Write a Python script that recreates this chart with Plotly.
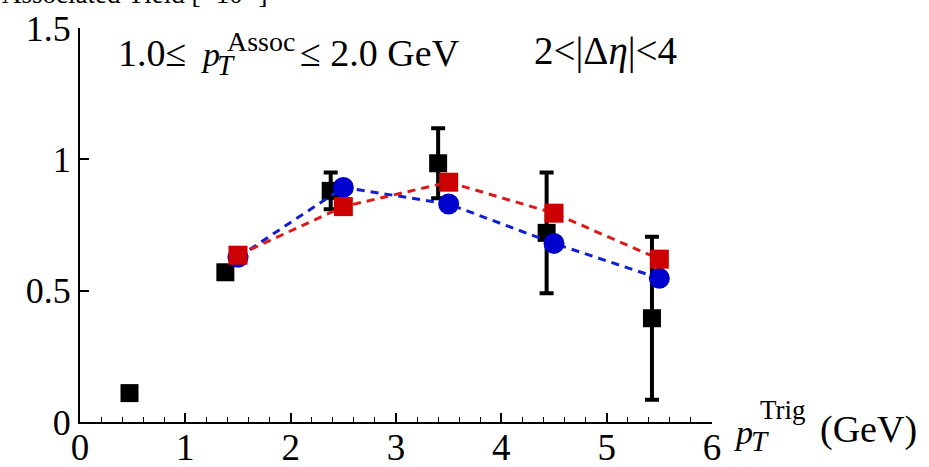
import plotly.graph_objects as go

# Data
data_x = [0.47, 1.38, 2.38, 3.40, 4.43, 5.43]
data_y = [0.11, 0.57, 0.88, 0.985, 0.72, 0.395]
data_err = [0.0, 0.02, 0.07, 0.133, 0.23, 0.31]

blue_x = [1.5, 2.5, 3.5, 4.5, 5.5]
blue_y = [0.627, 0.893, 0.83, 0.68, 0.547]

red_x = [1.5, 2.5, 3.5, 4.5, 5.5]
red_y = [0.635, 0.82, 0.913, 0.795, 0.62]

x_ticks = [0, 1, 2, 3, 4, 5, 6]
y_ticks = [0, 0.5, 1, 1.5]
y_tick_text = ["0", "0.5", "1", "1.5"]

W, H = 929, 467
L, R, T, B = 80, 217, 27.5, 45
PW, PH = W - L - R, H - T - B

def px(x):
    return (x - L) / PW

def py(y):
    return (H - B - y) / PH

FONT = "Liberation Serif"

fig = go.Figure()

fig.add_trace(go.Scatter(
    x=data_x, y=data_y, mode="markers",
    marker=dict(symbol="square", size=18, color="black"),
    error_y=dict(type="data", array=data_err, color="black", thickness=4, width=7),
    showlegend=False,
))
fig.add_trace(go.Scatter(
    x=blue_x, y=blue_y, mode="lines+markers",
    line=dict(color="#1020d0", width=3, dash="8px,6px"),
    marker=dict(symbol="circle", size=21, color="#0000cc"),
    showlegend=False,
))
fig.add_trace(go.Scatter(
    x=red_x, y=red_y, mode="lines+markers",
    line=dict(color="#dd1a1a", width=3, dash="8px,6px"),
    marker=dict(symbol="square", size=19, color="#cc0000"),
    showlegend=False,
))

ann = []
def A(text, x, y, size, xanchor="left", yanchor="middle", italic=False):
    t = f"<i>{text}</i>" if italic else text
    ann.append(dict(text=t, x=px(x), y=py(y), xref="paper", yref="paper",
                    showarrow=False, xanchor=xanchor, yanchor=yanchor,
                    font=dict(family=FONT, size=size, color="black")))

# top label
A("1.0\u2264", 116, 53, 38)
A("p", 199, 54, 34, italic=True)
A("T", 215, 65, 29, italic=True)
A("Assoc", 225, 41, 28)
A("\u2264 2.0 GeV", 298, 53, 38)
A("2&lt;|\u0394<i>\u03b7</i>|&lt;4", 605, 51, 39, xanchor="center")

# x axis title
A("p", 732, 433, 34, italic=True)
A("T", 749, 441, 29, italic=True)
A("Trig", 758, 410, 27)
A("(GeV)", 818, 430, 38)

# cropped y title at top
A("Associated Yield [\u00d710<sup>-2</sup>]", 0, -9, 27)

fig.update_layout(
    width=W, height=H,
    margin=dict(l=L, r=R, t=T, b=B, pad=0, autoexpand=False),
    paper_bgcolor="white", plot_bgcolor="white",
    font=dict(family=FONT, size=38, color="black"),
    annotations=ann,
    xaxis=dict(range=[0, 6], tickvals=x_ticks, showline=True, linecolor="black",
               linewidth=2, ticks="inside", ticklen=9, tickwidth=1.5, tickcolor="black",
               showgrid=False, zeroline=False, mirror=False, automargin=False,
               ticklabelstandoff=-8,
               tickfont=dict(family=FONT, size=37),
               minor=dict(tickvals=[v / 5 for v in range(31)], ticks="inside",
                          ticklen=5, tickwidth=1.2, tickcolor="black")),
    yaxis=dict(range=[0, 1.5], tickvals=y_ticks, ticktext=y_tick_text, showline=True,
               linecolor="black", linewidth=2, ticks="inside", ticklen=9, tickwidth=1.5,
               tickcolor="black", showgrid=False, zeroline=False, automargin=False,
               tickfont=dict(family=FONT, size=36)),
)

fig.write_html("out.html")
